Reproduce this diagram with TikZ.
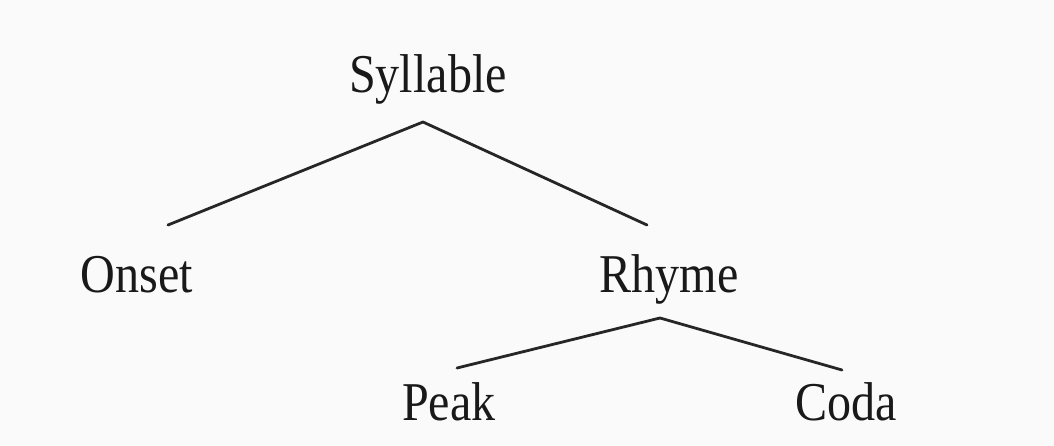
\documentclass[tikz,border=0pt]{standalone}
\usepackage{fontspec}
\setmainfont{Liberation Serif}[FakeStretch=0.88]

\tikzset{
  word/.style={anchor=base, inner sep=0.75pt, font=\fontsize{41}{48}\selectfont, text=black!90},
  branch/.style={line width=2.1, draw=black!85, line cap=round, line join=round}
}

\begin{document}
\begin{tikzpicture}[x=0.75pt,y=0.75pt,yscale=-1,xscale=1]
	%set diagram size to 1054 x 446
	\fill [black!2] (0,0) rectangle (1054,446);
	\useasboundingbox (0,0) rectangle (1054,446);

	% Text Node
	\node (syl) [word] at (428,92) {Syllable};
	% Text Node
	\node (onset) [word] at (137,292) {Onset};
	% Text Node
	\node (rhyme) [word] at (669,292) {Rhyme};
	% Text Node
	\node (peak) [word] at (449,420) {Peak};
	% Text Node
	\node (coda) [word] at (846,420) {Coda};

	% branch points
	\coordinate (sylfoot) at (423,122);
	\coordinate (onsettip) at (168,225);
	\coordinate (rhymetip) at (647,225);
	\coordinate (rhymefoot) at (660,318);
	\coordinate (peaktip) at (457,368);
	\coordinate (codatip) at (842,370);

	% Connection
	\draw [branch]    (onsettip) -- (sylfoot) -- (rhymetip) ;
	% Connection
	\draw [branch]    (peaktip) -- (rhymefoot) -- (codatip) ;

\end{tikzpicture}
\end{document}
